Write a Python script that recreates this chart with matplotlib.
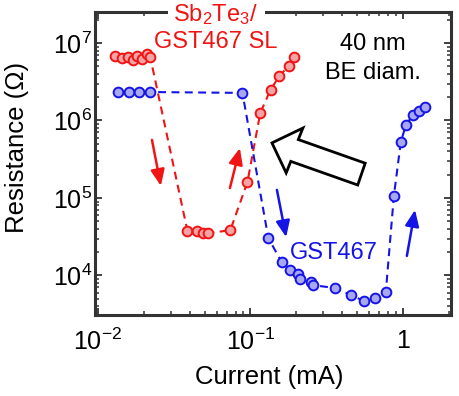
import matplotlib
matplotlib.use("Agg")
import matplotlib.pyplot as plt
from matplotlib.patches import Polygon


# Sb2Te3/GST467 superlattice device: current sweep (mA) and resistance (Ohm)
sl_current = [0.0129, 0.0144, 0.0158, 0.0170, 0.0181, 0.0195, 0.0210, 0.0220,
              0.0386, 0.0448, 0.0491, 0.0529, 0.0738, 0.0955,
              0.116, 0.1355, 0.155, 0.178, 0.192]
sl_resistance = [6.8e6, 6.4e6, 6.6e6, 6.0e6, 6.8e6, 6.2e6, 7.2e6, 6.6e6,
                 3.75e4, 3.75e4, 3.5e4, 3.5e4, 3.85e4, 1.6e5,
                 1.25e6, 2.5e6, 3.75e6, 5.05e6, 6.6e6]

# GST467 device
gst_current = [0.01355, 0.0160, 0.0186, 0.0220, 0.0886,
               0.131, 0.160, 0.181, 0.204, 0.213, 0.249, 0.258, 0.357,
               0.455, 0.553, 0.654, 0.773, 0.873, 0.970, 1.047, 1.164,
               1.274, 1.396]
gst_resistance = [2.33e6, 2.33e6, 2.33e6, 2.33e6, 2.27e6,
                  3.05e4, 1.49e4, 1.18e4, 1.045e4, 9.0e3, 8.2e3, 7.5e3, 6.9e3,
                  5.6e3, 4.7e3, 5.1e3, 6.1e3, 1.06e5, 5.3e5, 8.7e5, 1.18e6,
                  1.33e6, 1.49e6]

x_ticks = [0.01, 0.1, 1]
x_tick_labels = [r"$10^{-2}$", r"$10^{-1}$", "1"]
y_ticks = [1e4, 1e5, 1e6, 1e7]
y_tick_labels = [r"$10^{4}$", r"$10^{5}$", r"$10^{6}$", r"$10^{7}$"]

plt.rcParams["font.family"] = ["Liberation Sans", "DejaVu Sans"]
plt.rcParams["mathtext.fontset"] = "custom"
plt.rcParams["mathtext.rm"] = "Liberation Sans"
plt.rcParams["mathtext.it"] = "Liberation Sans:italic"
plt.rcParams["mathtext.default"] = "regular"

red = "#f01414"
red_face = "#f4a4a4"
blue = "#1414e6"
blue_face = "#a8a8f0"
frame = "#333333"

fig = plt.figure(figsize=(4.59, 3.96), dpi=100)
ax = fig.add_axes([95 / 459, 1 - 315 / 396, 356 / 459, 303 / 396])

# both sweeps: dashed line through circles
for xs, ys, edge, face in [
    (sl_current, sl_resistance, red, red_face),
    (gst_current, gst_resistance, blue, blue_face),
]:
    ax.plot(xs, ys, linestyle=(0, (3.8, 2.6)), linewidth=1.5, color=edge,
            marker="o", markersize=7, markerfacecolor=face,
            markeredgecolor=edge, markeredgewidth=1.4, zorder=3)

ax.set_xscale("log")
ax.set_yscale("log")
ax.set_xlim(0.00955, 2.07)
ax.set_ylim(10 ** 3.49, 10 ** 7.40)

ax.set_xticks(x_ticks)
ax.set_xticklabels(x_tick_labels)
ax.set_yticks(y_ticks)
ax.set_yticklabels(y_tick_labels)

ax.tick_params(which="both", direction="in", top=True, right=True,
               colors=frame, labelcolor="black", labelsize=18)
ax.tick_params(which="major", length=5, width=1.3)
ax.tick_params(which="minor", length=2.6, width=1.1)
ax.tick_params(axis="x", pad=10)
ax.tick_params(axis="y", pad=2)
for spine in ax.spines.values():
    spine.set_linewidth(2.2)
    spine.set_color(frame)

ax.set_xlabel("Current (mA)", fontsize=18.5)
ax.set_ylabel("Resistance (Ω)", fontsize=18.5)
ax.xaxis.set_label_coords(0.49, -0.165)
ax.yaxis.set_label_coords(-0.185, 0.554)

# labels inside the plot
ax.text(0.34, 0.99, r"Sb$_2$Te$_3$/", transform=ax.transAxes, color=red,
        fontsize=17, ha="center", va="center", clip_on=False, zorder=5,
        bbox=dict(boxstyle="square,pad=0.25", facecolor="white", edgecolor="none"))
ax.text(0.34, 0.90, "GST467 SL", transform=ax.transAxes, color=red,
        fontsize=17, ha="center", va="center", zorder=5)
ax.text(0.78, 0.895, "40 nm", transform=ax.transAxes, color="black",
        fontsize=17, ha="center", va="center")
ax.text(0.78, 0.80, "BE diam.", transform=ax.transAxes, color="black",
        fontsize=17, ha="center", va="center")
ax.text(0.672, 0.205, "GST467", transform=ax.transAxes, color=blue,
        fontsize=17, ha="center", va="center")

# small sweep-direction arrows
arrows = [
    ((0.160, 0.578), (0.185, 0.426), red),
    ((0.379, 0.419), (0.407, 0.551), red),
    ((0.511, 0.413), (0.537, 0.257), blue),
    ((0.876, 0.195), (0.899, 0.347), blue),
]
for start, end, c in arrows:
    ax.annotate("", xy=end, xytext=start, xycoords="axes fraction",
                textcoords="axes fraction",
                arrowprops=dict(arrowstyle="-|>,head_length=0.7,head_width=0.3",
                                color=c, lw=1.8, mutation_scale=14,
                                shrinkA=0, shrinkB=0))

# big hollow arrow
big_arrow = [(0.497, 0.568), (0.584, 0.617), (0.571, 0.579), (0.759, 0.501),
             (0.738, 0.429), (0.550, 0.507), (0.537, 0.469)]
ax.add_patch(Polygon(big_arrow, closed=True, transform=ax.transAxes,
                     facecolor="white", edgecolor="black", linewidth=2,
                     joinstyle="miter", zorder=4))

fig.savefig("out.png", dpi=100)
